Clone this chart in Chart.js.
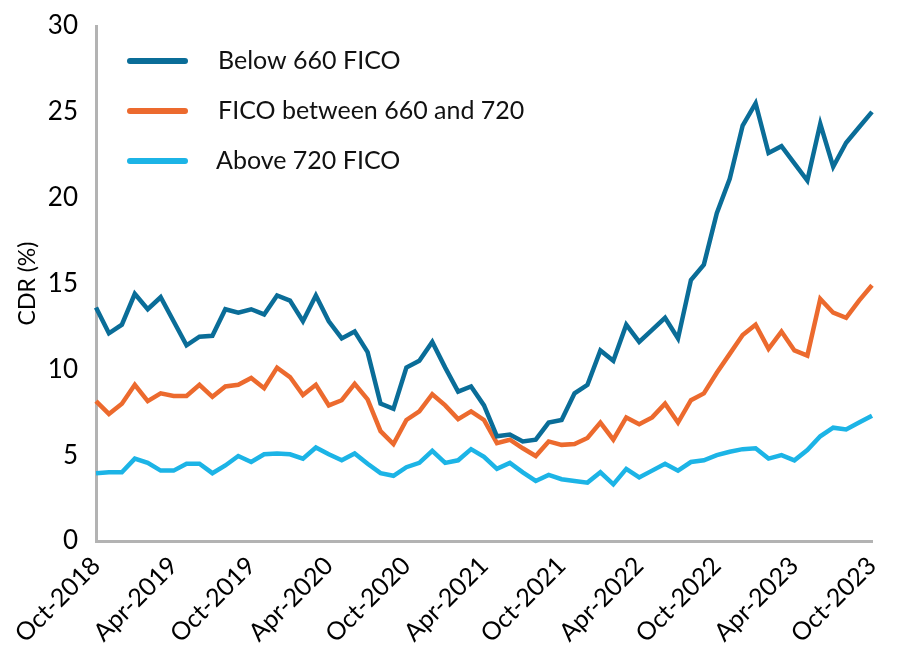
<!DOCTYPE html>
<html>
<head>
<meta charset="utf-8">
<script src="https://cdn.jsdelivr.net/npm/chart.js@4.4.1/dist/chart.umd.min.js"></script>
<style>
  html, body { margin: 0; padding: 0; background: #fff; }
  #wrap { width: 900px; height: 667px; position: relative; }
</style>
</head>
<body>
<div id="wrap"><canvas id="c" width="900" height="667"></canvas></div>
<script>
const months = [
  "Oct-2018","Nov-2018","Dec-2018","Jan-2019","Feb-2019","Mar-2019","Apr-2019","May-2019","Jun-2019","Jul-2019","Aug-2019","Sep-2019",
  "Oct-2019","Nov-2019","Dec-2019","Jan-2020","Feb-2020","Mar-2020","Apr-2020","May-2020","Jun-2020","Jul-2020","Aug-2020","Sep-2020",
  "Oct-2020","Nov-2020","Dec-2020","Jan-2021","Feb-2021","Mar-2021","Apr-2021","May-2021","Jun-2021","Jul-2021","Aug-2021","Sep-2021",
  "Oct-2021","Nov-2021","Dec-2021","Jan-2022","Feb-2022","Mar-2022","Apr-2022","May-2022","Jun-2022","Jul-2022","Aug-2022","Sep-2022",
  "Oct-2022","Nov-2022","Dec-2022","Jan-2023","Feb-2023","Mar-2023","Apr-2023","May-2023","Jun-2023","Jul-2023","Aug-2023","Sep-2023",
  "Oct-2023"
];
const tickLabels = ["Oct-2018","Apr-2019","Oct-2019","Apr-2020","Oct-2020","Apr-2021","Oct-2021","Apr-2022","Oct-2022","Apr-2023","Oct-2023"];

const below660 = [
  13.6,12.1,12.6,14.4,13.5,14.2,12.8,11.4,11.9,11.95,13.5,13.3,
  13.5,13.2,14.3,14.0,12.8,14.3,12.8,11.8,12.2,11.0,8.0,7.7,
  10.1,10.5,11.6,10.1,8.7,9.0,7.9,6.1,6.2,5.8,5.9,6.9,
  7.05,8.6,9.1,11.1,10.5,12.6,11.6,12.3,13.0,11.8,15.2,16.1,
  19.1,21.1,24.2,25.5,22.6,23.0,22.0,21.0,24.3,21.8,23.2,24.1,
  25.0
];
const fico660to720 = [
  8.15,7.4,8.0,9.1,8.15,8.6,8.45,8.45,9.1,8.4,9.0,9.1,
  9.5,8.9,10.1,9.55,8.5,9.1,7.9,8.2,9.15,8.25,6.4,5.65,
  7.05,7.55,8.55,7.9,7.1,7.55,7.05,5.7,5.9,5.4,4.95,5.8,
  5.6,5.65,6.0,6.9,5.9,7.2,6.8,7.2,8.0,6.9,8.2,8.6,
  9.8,10.9,12.0,12.6,11.2,12.2,11.1,10.8,14.1,13.3,13.0,14.0,
  14.9
];
const above720 = [
  3.95,4.0,4.0,4.8,4.55,4.1,4.1,4.5,4.5,3.95,4.4,4.95,
  4.6,5.05,5.1,5.05,4.8,5.45,5.05,4.7,5.1,4.5,3.95,3.8,
  4.3,4.55,5.25,4.55,4.7,5.35,4.9,4.2,4.55,4.0,3.5,3.85,
  3.6,3.5,3.4,4.0,3.3,4.2,3.7,4.1,4.5,4.1,4.6,4.7,
  5.0,5.2,5.35,5.4,4.8,5.0,4.7,5.3,6.1,6.6,6.5,6.9,
  7.3
];
const seriesNames = ["Below 660 FICO", "FICO between 660 and 720", "Above 720 FICO"];
const seriesColors = ["#0a6d98", "#ec6a2e", "#1cb4e6"];
const yTicks = [0, 5, 10, 15, 20, 25, 30];

const FONT = "Lato, 'Open Sans', sans-serif";

const legendPlugin = {
  id: 'insideLegend',
  afterDraw(chart) {
    const ctx = chart.ctx;
    const items = chart.data.datasets;
    ctx.save();
    ctx.font = "25px " + FONT;
    ctx.textBaseline = "middle";
    ctx.fillStyle = "#111";
    const rows = [61, 111, 161];
    const textX = [218, 218, 216];
    items.forEach((ds, i) => {
      const y = rows[i];
      ctx.strokeStyle = ds.borderColor;
      ctx.lineWidth = 6;
      ctx.lineCap = "round";
      ctx.beginPath();
      ctx.moveTo(130, y);
      ctx.lineTo(185, y);
      ctx.stroke();
      ctx.textAlign = "left";
      ctx.fillText(ds.label, textX[i], y);
    });
    ctx.restore();
  }
};

new Chart(document.getElementById('c'), {
  type: 'line',
  data: {
    labels: months,
    datasets: [
      { label: seriesNames[0], data: below660, borderColor: seriesColors[0] },
      { label: seriesNames[1], data: fico660to720, borderColor: seriesColors[1] },
      { label: seriesNames[2], data: above720, borderColor: seriesColors[2] }
    ].map(d => Object.assign(d, {
      borderWidth: 4.5, pointRadius: 0, pointHoverRadius: 0, tension: 0, fill: false,
      borderJoinStyle: 'miter', backgroundColor: d.borderColor
    }))
  },
  options: {
    responsive: false,
    animation: false,
    devicePixelRatio: 1,
    layout: { padding: { top: 26, right: 28, left: 0, bottom: 0 } },
    plugins: { legend: { display: false }, tooltip: { enabled: false } },
    scales: {
      x: {
        grid: { display: false },
        border: { display: true, color: '#b3b3b3', width: 3 },
        ticks: {
          autoSkip: false,
          minRotation: 45, maxRotation: 45,
          color: '#000',
          font: { family: FONT, size: 25 },
          padding: 2,
          callback: function(v, i) {
            const l = months[i];
            return tickLabels.includes(l) ? l : null;
          }
        },
        afterFit(s) { s.height = 667 - 541; }
      },
      y: {
        min: 0, max: 30,
        afterBuildTicks(s) { s.ticks = yTicks.map(v => ({ value: v })); },
        grid: { display: false },
        border: { display: true, color: '#b3b3b3', width: 3 },
        ticks: { color: '#000', font: { family: FONT, size: 26 }, padding: 10 },
        title: { display: true, text: 'CDR (%)', color: '#000', font: { family: FONT, size: 23 }, padding: { top: 14, bottom: 0 } },
        afterFit(s) { s.width = 96; }
      }
    }
  },
  plugins: [legendPlugin]
});
</script>
</body>
</html>
